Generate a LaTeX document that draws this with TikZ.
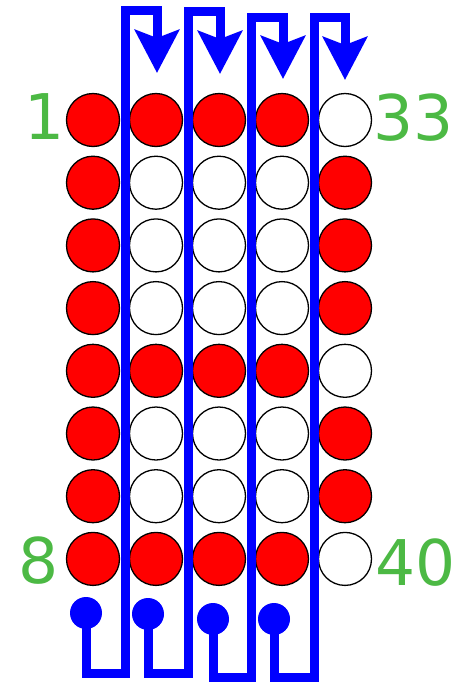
\documentclass[tikz,border=0pt]{standalone}
\usepackage{fontspec}
\setmainfont{DejaVu Sans}
\usepackage{xcolor}
\usepackage{tikz}
\usetikzlibrary{positioning, arrows.meta}

\definecolor{numgreen}{RGB}{76,185,68}

\begin{document}
\begin{tikzpicture}[
    x=1pt, y=-1pt,
    bead/.style={circle, draw=black, line width=1.3pt, minimum size=53pt, inner sep=0pt},
    dot/.style={circle, fill=blue, minimum size=32pt, inner sep=0pt},
    wire/.style={draw=blue, line width=9pt, -{Stealth[length=43pt, width=44pt, inset=8pt]}},
    lbl/.style={text=numgreen, font=\fontsize{63}{63}\selectfont, anchor=base, inner sep=0pt}
]
\useasboundingbox (0,0) rectangle (457,683);

% beads, row by row
\foreach \row/\pat in {1/{red,red,red,red,white}, 2/{red,white,white,white,red},
                       3/{red,white,white,white,red}, 4/{red,white,white,white,red},
                       5/{red,red,red,red,white}, 6/{red,white,white,white,red},
                       7/{red,white,white,white,red}, 8/{red,red,red,red,white}}
  \foreach \c [count=\col] in \pat
    \node[bead, fill=\c] (c-\row-\col) at ({93+63*(\col-1)}, {120+62.7*(\row-1)}) {};

\node[lbl] (n1) at (45,139) {1};
\node[lbl] (n33) at (414,140) {33};
\node[lbl] (n8) at (39,583) {8};
\node[lbl] (n40) at (416,585) {40};

% blue feeds
\node[dot] (d1) at (86,613) {};
\node[dot] (d2) at (148,614) {};
\node[dot] (d3) at (213,619) {};
\node[dot] (d4) at (274,619) {};
\coordinate (t1) at (157,73);
\coordinate (t2) at (220,74);
\coordinate (t3) at (283,79);
\coordinate (t4) at (345,80);

\draw[wire] (d1.center) |- (125,673) -- (125,10) -| (t1);
\draw[wire] (d2.center) |- (188,673) -- (188,11) -| (t2);
\draw[wire] (d3.center) |- (251,677) -- (251,17) -| (t3);
\draw[wire] (d4.center) |- (314,677) -- (314,17) -| (t4);

\end{tikzpicture}
\end{document}
